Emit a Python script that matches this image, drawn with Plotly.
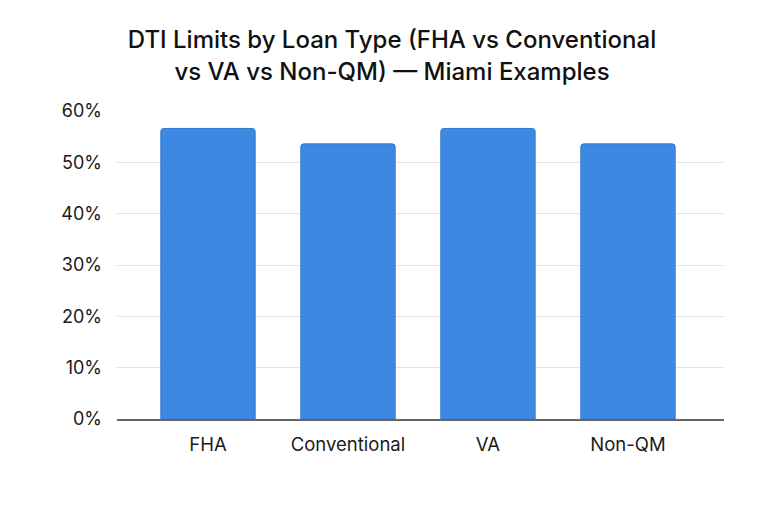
import plotly.graph_objects as go

loan_types = ["FHA", "Conventional", "VA", "Non-QM"]
dti_limits = [56.6, 53.6, 56.6, 53.6]
y_ticks = [0, 10, 20, 30, 40, 50, 60]
y_tick_labels = ["0%", "10%", "20%", "30%", "40%", "50%", "60%"]

fig = go.Figure(go.Bar(
    x=loan_types, y=dti_limits,
    marker=dict(color="#3d88e0", line=dict(color="#2f78d2", width=1), cornerradius=3),
    width=0.674,
))

fig.update_layout(
    width=768, height=512,
    paper_bgcolor="white", plot_bgcolor="white",
    margin=dict(l=109, r=52, t=103, b=101),
    font=dict(family="Inter, Roboto, sans-serif", color="#1a1a1a"),
    title=dict(
        text="DTI Limits by Loan Type (FHA vs Conventional<br>vs VA vs Non-QM) — Miami Examples",
        x=0.5, xanchor="center", y=0.921, yanchor="top",
        font=dict(size=24, color="#111111", family="Inter, Roboto, sans-serif", weight=500),
    ),
    showlegend=False,
)
fig.update_xaxes(
    range=[-0.65, 3.686], showline=True, linecolor="#666666", linewidth=1.5,
    ticks="", tickfont=dict(size=18.5, color="#1a1a1a"), showgrid=False,
    ticklabelstandoff=8,
)
fig.update_yaxes(
    range=[0, 60], tickvals=y_ticks, ticktext=y_tick_labels,
    showgrid=True, gridcolor="#e3e3e3", gridwidth=1, zeroline=False,
    tickfont=dict(size=18, color="#1a1a1a"), ticks="", ticklabelstandoff=14,
)
fig.write_html("out.html")
